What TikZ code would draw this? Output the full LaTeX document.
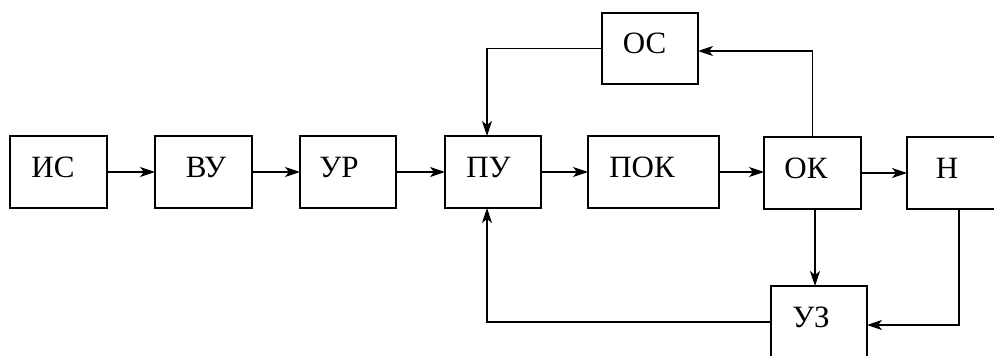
\documentclass[tikz,border=0pt]{standalone}
\usepackage{fontspec}
\setmainfont{Liberation Serif}
\usetikzlibrary{arrows.meta}
\begin{document}
\begin{tikzpicture}[x=1pt,y=-1pt,
  blk/.style={draw,line width=2pt,inner sep=0pt,outer sep=0pt,minimum width=97pt,minimum height=72pt},
  lbl/.style={anchor=base,inner sep=0pt,font=\fontsize{31}{37}\selectfont},
  conn/.style={line width=1.6pt,-{Stealth[length=15pt,width=10pt,inset=4pt]}},
  wire/.style={line width=1.6pt}]
\useasboundingbox (0,0) rectangle (994,356);
\clip (0,0) rectangle (994,356);
\node[blk] (IS) at (58.5,172) {};
\node[blk] (VU) at (203.5,172) {};
\node[blk,minimum width=96pt] (UR) at (348,172) {};
\node[blk,minimum width=96pt] (PU) at (493,172) {};
\node[blk,minimum width=131pt] (POK) at (653.5,172) {};
\node[blk] (OK) at (812.5,173) {};
\node[blk] (N) at (955.5,173) {};
\node[blk,minimum width=96pt,minimum height=71pt] (OS) at (650,48.5) {};
\node[blk,minimum width=96pt] (UZ) at (819,322) {};
\node[lbl] (tIS) at (53,177) {ИС};
\node[lbl] (tVU) at (206,177) {ВУ};
\node[lbl] (tUR) at (339,177) {УР};
\node[lbl] (tPU) at (488.5,177) {ПУ};
\node[lbl] (tPOK) at (642,177) {ПОК};
\node[lbl] (tOK) at (806,178) {ОК};
\node[lbl] (tN) at (947,178) {Н};
\node[lbl] (tOS) at (644.5,53) {ОС};
\node[lbl] (tUZ) at (811,327) {УЗ};
\draw[conn] (IS.east) -- (VU.west);
\draw[conn] (VU.east) -- (UR.west);
\draw[conn] (UR.east) -- (PU.west);
\draw[conn] (PU.east) -- (POK.west);
\draw[conn] (POK.east) -- (POK.east -| OK.west);
\draw[conn] (OK.east) -- (N.west);
\draw[conn] (OK.north) |- ([yshift=-2.5pt]OS.east);
\draw[conn] (OS.west) -| ([xshift=-6pt]PU.north);
\draw[conn] ([xshift=2.5pt]OK.south) -- ([xshift=2.5pt]OK.south |- UZ.north);
\draw[conn] ([xshift=3.5pt]N.south) |- ([yshift=-3pt]UZ.east);
\draw[conn] (UZ.west) -| ([xshift=-6pt]PU.south);
\end{tikzpicture}
\end{document}
